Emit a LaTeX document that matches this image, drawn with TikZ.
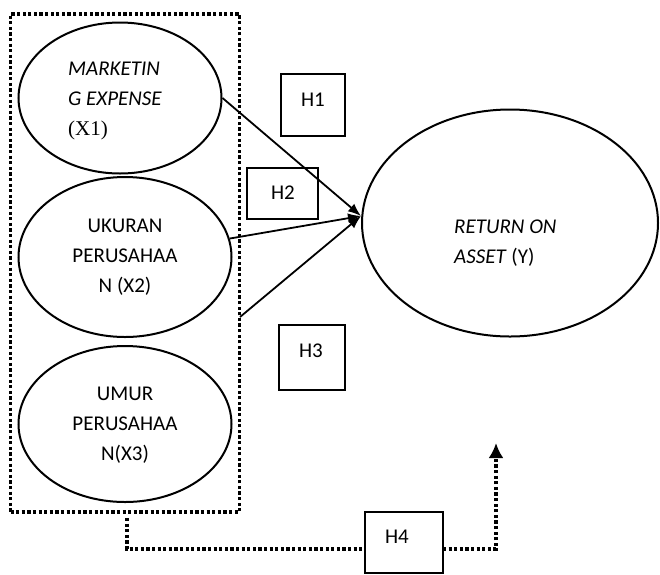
\documentclass[tikz,border=0pt]{standalone}
\usepackage{fontspec}
\setmainfont{Carlito}
\newfontfamily\tnr{Liberation Serif}
\usetikzlibrary{shapes.geometric,arrows.meta}
\begin{document}
\begin{tikzpicture}[x=1pt,y=-1pt,
  txt/.style={inner sep=0pt,font=\fontsize{21}{30}\selectfont},
  oval/.style={ellipse,draw,line width=2pt,inner sep=0pt},
  hbox/.style={rectangle,draw,line width=2pt,inner sep=0pt},
  dotline/.style={line width=3.3pt,dash pattern=on 3.2pt off 2.4pt},
  arr/.style={line width=1.8pt,-{Latex[length=13pt,width=10pt]}}]
\useasboundingbox (0,0) rectangle (660,574);
% group box
\node[draw,dotline,rectangle,minimum width=229pt,minimum height=498pt,inner sep=0pt] (grp) at (125,263) {};
% ellipses
\node[oval,minimum width=203pt,minimum height=151pt] (x1) at (120,98) {};
\node[oval,minimum width=213pt,minimum height=160pt] (x2) at (125,257) {};
\node[oval,minimum width=213pt,minimum height=156pt] (x3) at (125,424) {};
\node[oval,minimum width=296pt,minimum height=227pt] (y) at (510,223) {};
% ellipse texts
\node[txt,align=left,anchor=west] (x1t) at (68,101) {\textit{MARKETIN}\\\textit{G EXPENSE}\\{\tnr (X1)}};
\node[txt,align=center] (x2t) at (125,257) {UKURAN\\PERUSAHAA\\N (X2)};
\node[txt,align=center] (x3t) at (125,425) {UMUR\\PERUSAHAA\\N(X3)};
\node[txt,align=left,anchor=west] (yt) at (454,243) {\textit{RETURN ON}\\\textit{ASSET} (Y)};
% hypothesis boxes
\node[hbox,minimum width=64pt,minimum height=62pt] (h1) at (313,105) {};
\node[hbox,minimum width=71pt,minimum height=51pt] (h2) at (282.5,193.5) {};
\node[hbox,minimum width=66pt,minimum height=65pt] (h3) at (312,357.5) {};
\node[hbox,minimum width=78pt,minimum height=61pt] (h4) at (404,542.5) {};
\node[txt] (h1t) at (313,100) {H1};
\node[txt] (h2t) at (283,193) {H2};
\node[txt] (h3t) at (311,351) {H3};
\node[txt] (h4t) at (397,537) {H4};
% arrows
\coordinate (s3) at (240,317);
\coordinate (yin) at (361,216);
\draw[arr] (x1.east) -- (yin);
\draw[arr] (x2.10) -- (yin);
\draw[arr] (s3) -- (yin);
% dotted H4 path
\coordinate (d0) at (127,518);
\coordinate (h4in) at (365,549);
\coordinate (h4out) at (443,549);
\coordinate (tip) at (496,443);
\draw[dotline] (d0) |- (h4in);
\draw[dotline,-{Latex[length=15pt,width=15pt]}] (h4out) -| (tip);
\end{tikzpicture}
\end{document}
